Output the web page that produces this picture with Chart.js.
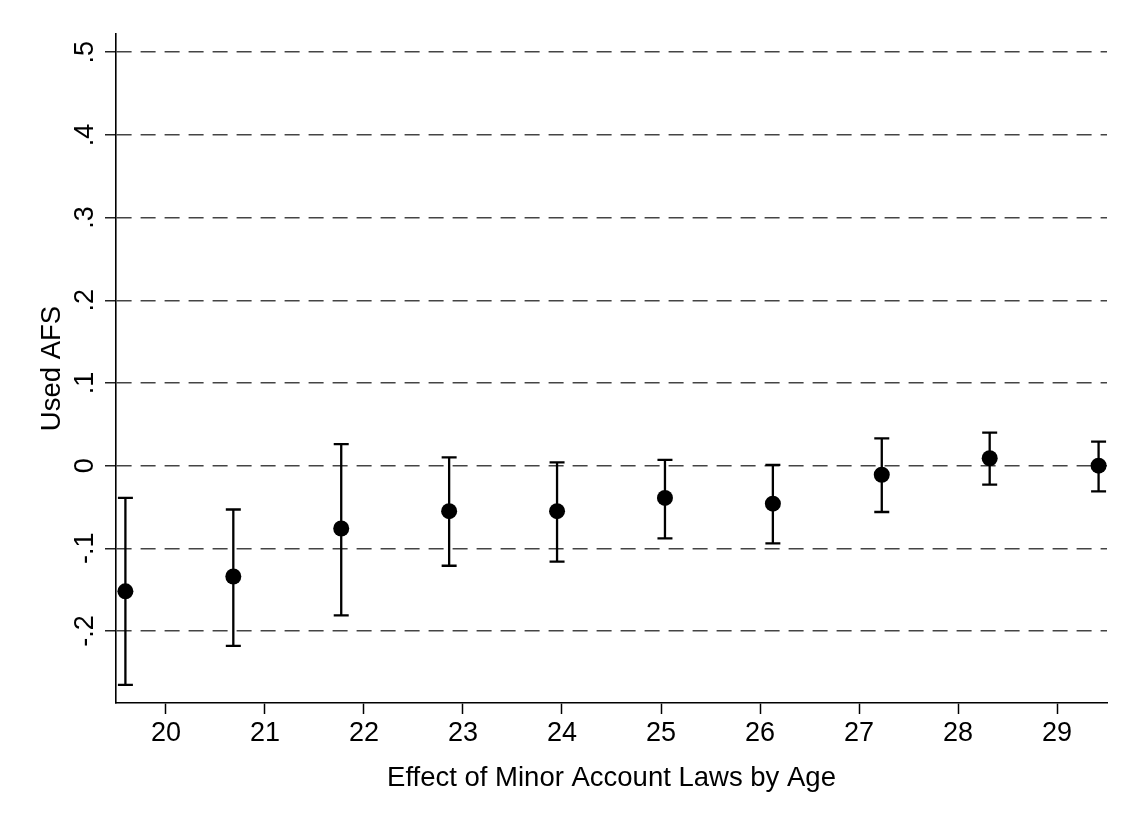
<!DOCTYPE html>
<html>
<head>
<meta charset="utf-8">
<script src="https://cdn.jsdelivr.net/npm/chart.js@4"></script>
<style>
  body { margin: 0; background: #fff; }
</style>
</head>
<body>
<canvas id="ageChart" width="1135" height="827"></canvas>
<script>
// x tick positions and their labels
const ageTicks = [20, 21, 22, 23, 24, 25, 26, 27, 28, 29];
// where each estimate sits on the x axis
const xPos = [19.59, 20.68, 21.77, 22.86, 23.95, 25.04, 26.13, 27.23, 28.32, 29.42];
const estimates = [-0.152, -0.134, -0.076, -0.055, -0.055, -0.039, -0.046, -0.011, 0.009, 0.000];
const ciLow = [-0.265, -0.218, -0.181, -0.121, -0.116, -0.088, -0.094, -0.056, -0.023, -0.031];
const ciHigh = [-0.039, -0.053, 0.026, 0.010, 0.004, 0.007, 0.001, 0.033, 0.040, 0.029];
// y ticks and labels
const yTicks = [-0.2, -0.1, 0, 0.1, 0.2, 0.3, 0.4, 0.5];
const yLabels = ['-.2', '-.1', '0', '.1', '.2', '.3', '.4', '.5'];

const fontFamily = '"Liberation Sans", Arial, Helvetica, sans-serif';

const errorBars = {
    id: 'errorBars',
    beforeDatasetsDraw(chart) {
        const ctx = chart.ctx;
        const x = chart.scales.x;
        const y = chart.scales.y;
        ctx.save();
        ctx.strokeStyle = '#000';
        ctx.lineWidth = 2.3;
        for (let i = 0; i < xPos.length; i++) {
            const px = x.getPixelForValue(xPos[i]);
            const top = y.getPixelForValue(ciHigh[i]);
            const bot = y.getPixelForValue(ciLow[i]);
            ctx.beginPath();
            ctx.moveTo(px, top);
            ctx.lineTo(px, bot);
            ctx.moveTo(px - 7.5, top);
            ctx.lineTo(px + 7.5, top);
            ctx.moveTo(px - 7.5, bot);
            ctx.lineTo(px + 7.5, bot);
            ctx.stroke();
        }
        ctx.restore();
    }
};

const ctx = document.getElementById('ageChart').getContext('2d');

new Chart(ctx, {
    type: 'scatter',
    data: {
        datasets: [{
            label: 'Used AFS',
            data: xPos.map((v, i) => ({ x: v, y: estimates[i] })),
            backgroundColor: '#000',
            borderWidth: 0,
            pointRadius: 8,
        }]
    },
    options: {
        responsive: false,
        animation: false,
        layout: {
            padding: { top: 34, right: 28, left: 0, bottom: 0 }
        },
        scales: {
            x: {
                type: 'linear',
                min: 19.495,
                max: 29.505,
                afterBuildTicks: s => { s.ticks = ageTicks.map(v => ({ value: v })); },
                afterFit: s => { s.height = 124; },
                ticks: {
                    color: '#000',
                    font: { family: fontFamily, size: 27 },
                    padding: 3,
                    maxRotation: 0,
                    callback: v => String(v)
                },
                grid: {
                    drawOnChartArea: false,
                    tickLength: 11,
                    tickColor: '#000',
                    tickWidth: 1.5
                },
                border: { color: '#000', width: 1.6 },
                title: {
                    display: true,
                    text: 'Effect of Minor Account Laws by Age',
                    color: '#000',
                    font: { family: fontFamily, size: 27.5 },
                    padding: { top: 0, bottom: 32 }
                }
            },
            y: {
                type: 'linear',
                min: -0.287,
                max: 0.522,
                afterBuildTicks: s => { s.ticks = yTicks.map(v => ({ value: v })); },
                afterFit: s => { s.width = 116; },
                ticks: {
                    color: '#000',
                    font: { family: fontFamily, size: 27 },
                    minRotation: 90,
                    maxRotation: 90,
                    crossAlign: 'center',
                    padding: 4,
                    callback: (v, i) => yLabels[i]
                },
                grid: {
                    color: '#444',
                    lineWidth: 1.5,
                    tickLength: 11,
                    tickColor: '#222',
                    tickWidth: 1.5
                },
                border: { color: '#000', width: 1.6, dash: [15, 9] },
                title: {
                    display: true,
                    text: 'Used AFS',
                    color: '#000',
                    font: { family: fontFamily, size: 27.5 },
                    padding: { top: 36, bottom: 0 }
                }
            }
        },
        plugins: {
            legend: { display: false },
            tooltip: { enabled: false }
        }
    },
    plugins: [errorBars]
});
</script>
</body>
</html>
